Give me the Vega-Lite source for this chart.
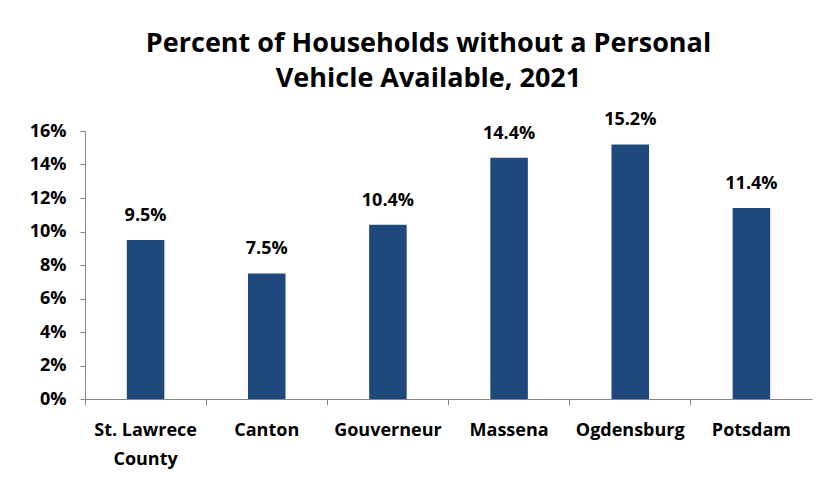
{
  "$schema": "https://vega.github.io/schema/vega-lite/v6.json",
  "width": 727,
  "height": 268,
  "autosize": {"type": "none"},
  "padding": {"left": 85, "top": 131, "right": 27, "bottom": 86},
  "background": "white",
  "config": {"view": {"stroke": null}, "font": "Open Sans"},
  "title": {
    "text": ["Percent of Households without a Personal", "Vehicle Available, 2021"],
    "fontSize": 27,
    "fontWeight": "bold",
    "font": "Open Sans",
    "color": "#000000",
    "lineHeight": 35,
    "anchor": "middle",
    "dx": -20,
    "offset": 18
  },
  "data": {
    "values": [
      {"place": "St. Lawrece County", "pct": 0.095},
      {"place": "Canton", "pct": 0.075},
      {"place": "Gouverneur", "pct": 0.104},
      {"place": "Massena", "pct": 0.144},
      {"place": "Ogdensburg", "pct": 0.152},
      {"place": "Potsdam", "pct": 0.114}
    ]
  },
  "encoding": {
    "x": {
      "field": "place",
      "type": "nominal",
      "sort": null,
      "scale": {"paddingInner": 0, "paddingOuter": 0},
      "axis": {
        "title": null,
        "labelAngle": 0,
        "labelFontSize": 18,
        "labelFontWeight": "bold",
        "labelColor": "#000000",
        "labelPadding": 16,
        "labelLineHeight": 29,
        "labelBaseline": "top",
        "bandPosition": 0,
        "tickSize": 6,
        "tickColor": "#868686",
        "domainColor": "#868686",
        "labelExpr": "datum.label == 'St. Lawrece County' ? ['St. Lawrece', 'County'] : datum.label"
      }
    },
    "y": {
      "field": "pct",
      "type": "quantitative",
      "scale": {"domain": [0, 0.16]},
      "axis": {
        "title": null,
        "format": ".0%",
        "values": [0, 0.02, 0.04, 0.06, 0.08, 0.1, 0.12, 0.14, 0.16],
        "grid": false,
        "labelFontSize": 18,
        "labelFontWeight": "bold",
        "labelColor": "#000000",
        "labelPadding": 14,
        "tickSize": 5,
        "tickColor": "#868686",
        "domainColor": "#868686"
      }
    }
  },
  "layer": [
    {"mark": {"type": "bar", "color": "#1F497D", "width": {"band": 0.31}}},
    {
      "mark": {"type": "text", "dy": -24, "fontSize": 18, "fontWeight": "bold", "color": "#000000"},
      "encoding": {"text": {"field": "pct", "type": "quantitative", "format": ".1%"}}
    }
  ]
}
